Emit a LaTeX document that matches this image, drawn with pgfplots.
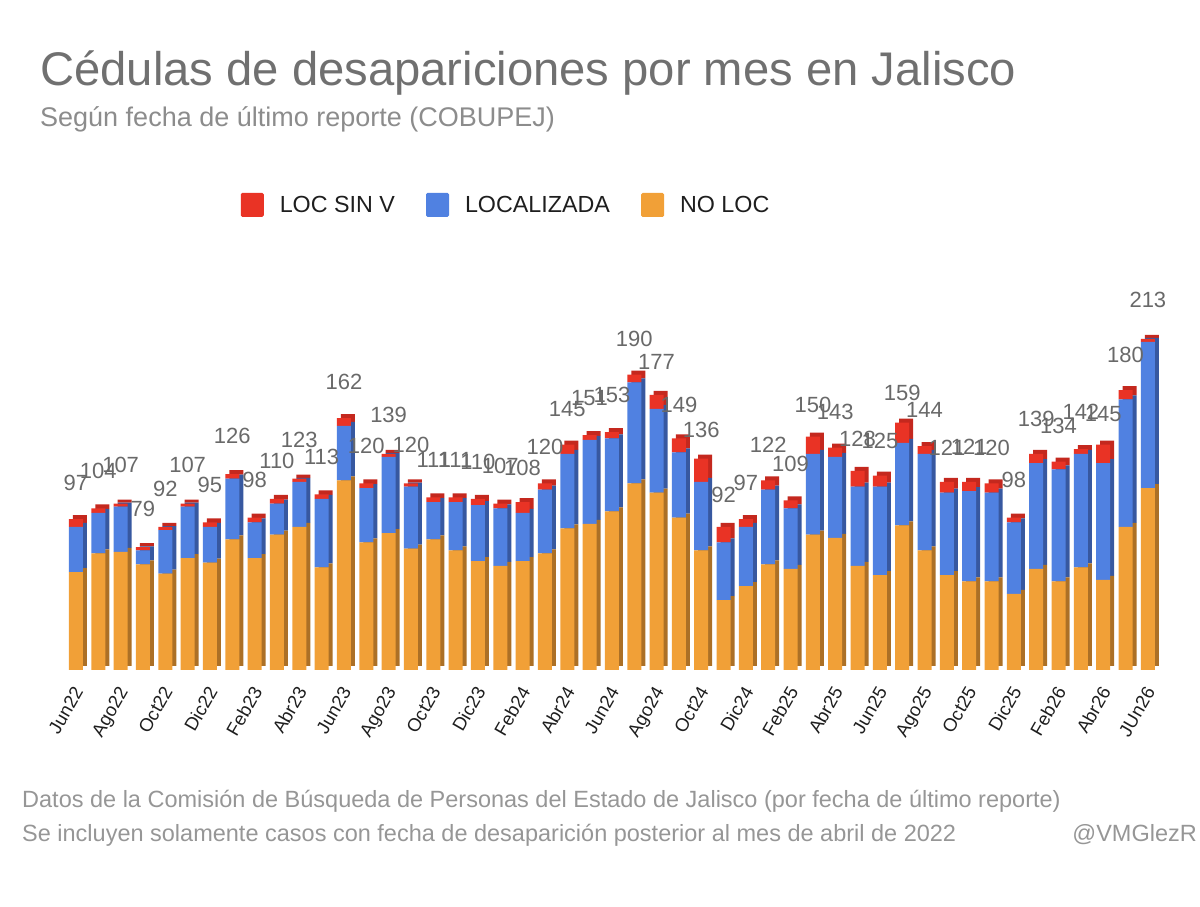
\documentclass[border=0pt]{standalone}
\usepackage{pgfplots}
\pgfplotsset{compat=1.18}
\usepackage{pgfplotstable}
\usepackage{fontspec}
\setmainfont{Liberation Sans}
\definecolor{cred}{RGB}{233,51,37}
\definecolor{cblue}{RGB}{80,129,225}
\definecolor{corange}{RGB}{241,160,55}
\definecolor{dred}{RGB}{196,40,30}
\definecolor{dblue}{RGB}{55,88,160}
\definecolor{dorange}{RGB}{172,112,38}
\definecolor{titlegray}{RGB}{112,112,112}
\definecolor{subgray}{RGB}{140,140,140}
\definecolor{footgray}{RGB}{150,150,150}
\definecolor{labgray}{RGB}{105,105,105}
\definecolor{txt}{RGB}{30,30,30}

\pgfplotstableread{
x noloc loc sinv total
0 63 29 5 97
1 75 26 3 104
2 76 29 2 107
3 68 9 2 79
4 62 28 2 92
5 72 33 2 107
6 69 23 3 95
7 84 39 3 126
8 72 23 3 98
9 87 20 3 110
10 92 29 2 123
11 66 44 3 113
12 122 35 5 162
13 82 35 3 120
14 88 49 2 139
15 78 40 2 120
16 84 24 3 111
17 77 31 3 111
18 70 36 4 110
19 67 37 3 107
20 70 31 7 108
21 75 41 4 120
22 91 48 6 145
23 94 54 3 151
24 102 47 4 153
25 120 65 5 190
26 114 54 9 177
27 98 42 9 149
28 77 44 15 136
29 45 37 10 92
30 54 38 5 97
31 68 48 6 122
32 65 39 5 109
33 87 52 11 150
34 85 52 6 143
35 67 51 10 128
36 61 57 7 125
37 93 53 13 159
38 77 62 5 144
39 61 53 7 121
40 57 58 6 121
41 57 57 6 120
42 49 46 3 98
43 65 68 6 139
44 57 72 5 134
45 66 73 3 142
46 58 75 12 145
47 92 82 6 180
48 117 94 2 213
}\data

\pgfplotsset{
  basebars/.style={
    scale only axis, width=1094.3pt, height=373.2pt,
    xmin=-0.5, xmax=48.5, ymin=0, ymax=240,
    ybar stacked, bar width=14pt,
    axis line style={draw=none}, tick style={draw=none},
    ytick=\empty, clip=false,
    /pgf/number format/assume math mode=true,
  }
}

\begin{document}
\begin{tikzpicture}
\useasboundingbox (0pt,0pt) rectangle (1200pt,907pt);

\node[anchor=base west, inner sep=0pt, text=titlegray, font=\fontsize{47.2}{47.2}\selectfont] at (40pt,821pt) {Cédulas de desapariciones por mes en Jalisco};
\node[anchor=base west, inner sep=0pt, text=subgray, font=\fontsize{27}{27}\selectfont] at (40pt,780pt) {Según fecha de último reporte (COBUPEJ)};

% back (3D depth) layer
\begin{axis}[basebars, at={(68.8pt,241pt)}, anchor=south west, xtick=\empty]
\addplot[fill=dorange, draw=none] table[x=x,y=noloc]{\data};
\addplot[fill=dblue, draw=none] table[x=x,y=loc]{\data};
\addplot[fill=dred, draw=none] table[x=x,y=sinv]{\data};
\end{axis}

% front layer
\begin{axis}[basebars, at={(64.8pt,237pt)}, anchor=south west,
  xtick={-0.15,1.85,...,47.9},
  xticklabels={Jun22,Ago22,Oct22,Dic22,Feb23,Abr23,Jun23,Ago23,Oct23,Dic23,Feb24,Abr24,Jun24,Ago24,Oct24,Dic24,Feb25,Abr25,Jun25,Ago25,Oct25,Dic25,Feb26,Abr26,JUn26},
  xticklabel style={rotate=60, anchor=north east, inner sep=0pt, font=\fontsize{18.5}{18.5}\selectfont, text=txt},
  xticklabel shift=15pt,
  legend style={at={(0.4028,1.246)}, anchor=center, draw=none, fill=none,
    legend columns=3, font=\fontsize{23.3}{23.3}\selectfont, text=txt,
    /tikz/every odd column/.append style={column sep=15pt},
    /tikz/every even column/.append style={column sep=30pt},
    nodes={inner sep=1pt}},
  legend image code/.code={\fill[#1, draw=none, rounded corners=1.5pt] (0pt,-12pt) rectangle (23pt,12pt);},
  reverse legend,
]
\addplot[fill=corange, draw=none] table[x=x,y=noloc]{\data};
\addplot[fill=cblue, draw=none] table[x=x,y=loc]{\data};
\addplot[fill=cred, draw=none, point meta=explicit, nodes near coords,
  every node near coord/.append style={anchor=south, inner sep=0pt, yshift=32pt, text=labgray, font=\fontsize{22}{22}\selectfont}]
  table[x=x,y=sinv,meta=total]{\data};
\legend{NO LOC, LOCALIZADA, LOC SIN V}
\end{axis}

\node[anchor=base west, inner sep=0pt, text=footgray, font=\fontsize{23.5}{23.5}\selectfont] at (22pt,99pt) {Datos de la Comisión de Búsqueda de Personas del Estado de Jalisco (por fecha de último reporte)};
\node[anchor=base west, inner sep=0pt, text=footgray, font=\fontsize{23.5}{23.5}\selectfont] at (22pt,65pt) {Se incluyen solamente casos con fecha de desaparición posterior al mes de abril de 2022};
\node[anchor=base east, inner sep=0pt, text=footgray, font=\fontsize{23.5}{23.5}\selectfont] at (1197pt,65pt) {@VMGlezR};
\end{tikzpicture}
\end{document}
